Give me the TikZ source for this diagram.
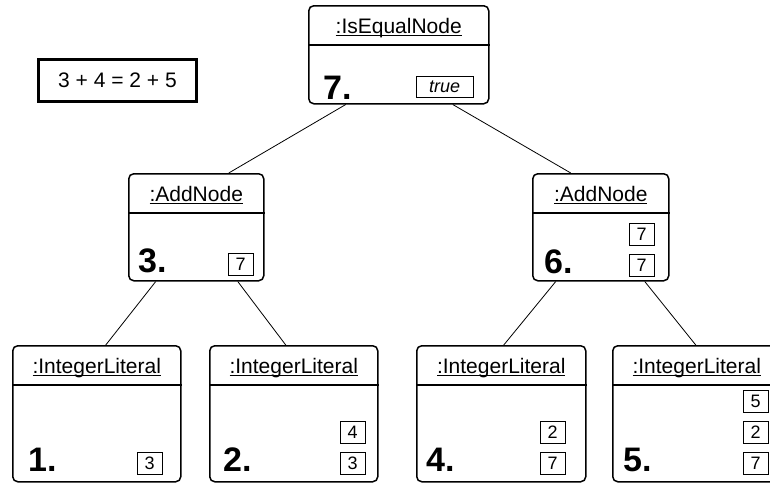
\documentclass[tikz,border=0pt]{standalone}
\usepackage{fontspec}
\setmainfont{Liberation Sans}
\usetikzlibrary{positioning}

% object name with the underline set just below the baseline
\newcommand{\objname}[1]{\setbox0=\hbox{#1}\rlap{\copy0}\rule[-3pt]{\wd0}{1.1pt}}

\tikzset{
  obj/.style={draw, line width=1.5pt, rounded corners=5pt, inner sep=0pt, anchor=north west},
  objtitle/.style={font=\fontsize{21}{21}\selectfont, anchor=base, inner sep=0pt},
  divider/.style={line width=1.5pt},
  order/.style={font=\fontsize{34}{34}\selectfont\bfseries, anchor=base west, inner sep=0pt},
  val/.style={draw, line width=0.9pt, minimum width=25pt, minimum height=22pt, inner sep=0pt, font=\fontsize{18}{18}\selectfont},
  link/.style={line width=0.8pt}
}

\begin{document}
\begin{tikzpicture}[x=1pt, y=-1pt]
  \clip (0,0) rectangle (770,483);

  % the expression
  \node[draw, line width=2.2pt, minimum width=158pt, minimum height=42pt, inner sep=0pt,
        font=\fontsize{21}{21}\selectfont] (expr) at (117.5,80.5) {3 + 4 = 2 + 5};

  % tree objects
  \node[obj, minimum width=180pt, minimum height=98pt]  (eq)   at (308,5)   {};
  \node[obj, minimum width=135pt, minimum height=107pt] (addl) at (128,173) {};
  \node[obj, minimum width=136pt, minimum height=107pt] (addr) at (532,173) {};
  \node[obj, minimum width=168pt, minimum height=136pt] (lita) at (12,345)  {};
  \node[obj, minimum width=168pt, minimum height=136pt] (litb) at (209,345) {};
  \node[obj, minimum width=169pt, minimum height=136pt] (litc) at (416,345) {};
  \node[obj, minimum width=168pt, minimum height=136pt] (litd) at (612,345) {};

  \foreach \o/\t in {eq/:IsEqualNode, addl/:AddNode, addr/:AddNode,
                     lita/:IntegerLiteral, litb/:IntegerLiteral,
                     litc/:IntegerLiteral, litd/:IntegerLiteral} {
    \node[objtitle] (\o-title) at ([yshift=-28pt]\o.north) {\objname{\t}};
    \draw[divider] ([yshift=-40pt]\o.north west) -- ([yshift=-40pt]\o.north east);
  }

  % evaluation order
  \node[order] (eq-no)   at ([xshift=15pt,yshift=5pt]eq.south west)   {7.};
  \node[order] (addl-no) at ([xshift=10pt,yshift=9pt]addl.south west) {3.};
  \node[order] (addr-no) at ([xshift=12pt,yshift=8pt]addr.south west) {6.};
  \node[order] (lita-no) at ([xshift=16pt,yshift=11pt]lita.south west) {1.};
  \node[order] (litb-no) at ([xshift=14pt,yshift=11pt]litb.south west) {2.};
  \node[order] (litc-no) at ([xshift=10pt,yshift=11pt]litc.south west) {4.};
  \node[order] (litd-no) at ([xshift=11pt,yshift=11pt]litd.south west) {5.};

  % values on the stack
  \node[val, anchor=south east, minimum width=57pt, minimum height=21pt,
        font=\fontsize{18}{18}\selectfont\itshape] (eq-v1) at ([xshift=-16pt,yshift=7pt]eq.south east) {true};
  \node[val, anchor=south east] (addl-v1) at ([xshift=-11pt,yshift=6pt]addl.south east) {7};
  \node[val, anchor=south east] (addr-v1) at ([xshift=-15pt,yshift=5pt]addr.south east) {7};
  \node[val, above=8pt of addr-v1] (addr-v2) {7};
  \node[val, anchor=south east] (lita-v1) at ([xshift=-19pt,yshift=8pt]lita.south east) {3};
  \node[val, anchor=south east] (litb-v1) at ([xshift=-13pt,yshift=8pt]litb.south east) {3};
  \node[val, above=8pt of litb-v1] (litb-v2) {4};
  \node[val, anchor=south east] (litc-v1) at ([xshift=-21pt,yshift=8pt]litc.south east) {7};
  \node[val, above=8pt of litc-v1] (litc-v2) {2};
  \node[val, anchor=south east] (litd-v1) at ([xshift=-13pt,yshift=8pt]litd.south east) {7};
  \node[val, above=8pt of litd-v1] (litd-v2) {2};
  \node[val, above=8pt of litd-v2] (litd-v3) {5};

  % tree edges
  \draw[link] ([xshift=-53pt]eq.south)   -- ([xshift=32.5pt]addl.north);
  \draw[link] ([xshift=54pt]eq.south)    -- ([xshift=-30pt]addr.north);
  \draw[link] ([xshift=-40.5pt]addl.south) -- ([xshift=9pt]lita.north);
  \draw[link] ([xshift=41.5pt]addl.south)  -- ([xshift=-8pt]litb.north);
  \draw[link] ([xshift=-45pt]addr.south) -- ([xshift=2.5pt]litc.north);
  \draw[link] ([xshift=44pt]addr.south)  -- ([xshift=-1pt]litd.north);
\end{tikzpicture}
\end{document}
